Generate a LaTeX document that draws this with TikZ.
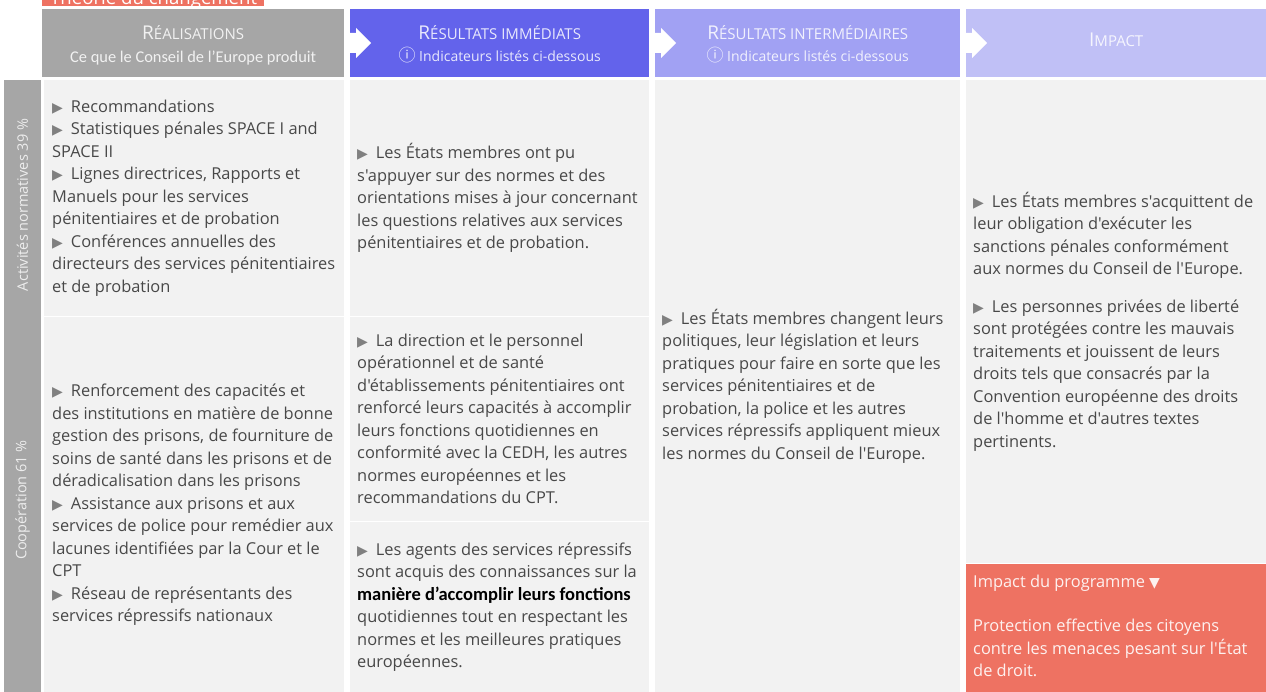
\documentclass[tikz,border=0pt]{standalone}
\usepackage{fontspec}
\setmainfont{Open Sans}[Ligatures=TeXOff]
\newfontfamily\calfont{Carlito}
\newfontfamily\symfont{DejaVu Sans}
\newfontfamily\cjkfont{Noto Sans CJK SC}
\usetikzlibrary{positioning}

\definecolor{headgray}{RGB}{166,166,166}
\definecolor{headblue}{RGB}{99,99,235}
\definecolor{headmid}{RGB}{161,161,243}
\definecolor{headpale}{RGB}{192,192,246}
\definecolor{cellgray}{RGB}{242,242,242}
\definecolor{coral}{RGB}{238,114,98}
\definecolor{bodytext}{RGB}{72,72,72}

\newcommand\bmark{{\symfont\color{gray}\fontsize{14}{14}\selectfont ▶}\hspace{8pt}}
\newcommand\sctitle[2]{{\fontsize{19}{19}\selectfont #1}{\fontsize{15}{15}\selectfont #2}}
\newcommand\infomark{{\cjkfont\fontsize{17}{17}\selectfont ⓘ}}

\tikzset{
  cell/.style={fill=cellgray, draw=none, anchor=north west, inner sep=0pt},
  head/.style={draw=none, anchor=north west, inner sep=0pt, minimum height=68pt},
  body/.style={anchor=west, align=left, inner sep=0pt, text=bodytext, font=\fontsize{16.4}{22.5}\selectfont},
  headtext/.style={anchor=base, align=center, text=white, text opacity=0.85, inner sep=0pt},
  sidetext/.style={rotate=90, text=white, text opacity=0.8, inner sep=0pt, font=\fontsize{14.5}{16}\selectfont},
}

\begin{document}
\begin{tikzpicture}[x=1pt, y=-1pt]
  \useasboundingbox (0,0) rectangle (1266,692);
  \fill[white] (0,0) rectangle (1266,692);

  % title bar, cut at the top edge
  \node[fill=coral, anchor=south west, inner sep=0pt, minimum width=222pt, minimum height=30pt] (titlebar) at (42,6.7) {};
  \node[anchor=base west, inner sep=0pt, text=white, font=\fontsize{18.6}{20}\selectfont] (title) at (50,4.5) {Théorie du changement};

  % headers
  \node[head, fill=headgray, minimum width=302pt] (hreal) at (42,9) {};
  \node[head, fill=headblue, minimum width=299pt] (hres) at (350,9) {};
  \node[head, fill=headmid, minimum width=305pt] (hinter) at (655,9) {};
  \node[head, fill=headpale, minimum width=300pt] (himp) at (966,9) {};

  \foreach \h in {hres,hinter,himp}
    \fill[white] ([shift={(-2,24)}]\h.north west) -- ++(8,0) -- ++(0,-5) -- ++(15,15)
      -- ++(-15,15) -- ++(0,-5) -- ++(-8,0) -- cycle;

  \node[headtext] (lreal) at ([yshift=-31pt]hreal.north) {\sctitle{R}{ÉALISATIONS}};
  \node[headtext, font=\calfont\fontsize{16.4}{18}\selectfont] (sreal) at ([yshift=-53.5pt]hreal.north) {Ce que le Conseil de l’Europe produit};
  \node[headtext] (lres) at ([yshift=-31pt]hres.north) {\sctitle{R}{ÉSULTATS IMMÉDIATS}};
  \node[headtext, font=\fontsize{14}{16}\selectfont] (sres) at ([yshift=-53pt]hres.north) {\infomark\ Indicateurs listés ci-dessous};
  \node[headtext] (linter) at ([yshift=-31pt]hinter.north) {\sctitle{R}{ÉSULTATS INTERMÉDIAIRES}};
  \node[headtext, font=\fontsize{14}{16}\selectfont] (sinter) at ([yshift=-53pt]hinter.north) {\infomark\ Indicateurs listés ci-dessous};
  \node[headtext] (limp) at ([yshift=-37.7pt]himp.north) {\sctitle{I}{MPACT}};

  % side bar
  \node[cell, fill=headgray, minimum width=37pt, minimum height=612pt] (side) at (4,80) {};
  \node[sidetext] (snorm) at (22.5,205) {Activités normatives 39 \%};
  \node[sidetext] (scoop) at (22.5,500) {Coopération 61 \%};

  % cells
  \node[cell, minimum width=300pt, minimum height=235.5pt] (realtop) at (44,80) {};
  \node[cell, minimum width=300pt, minimum height=375pt] (realbot) at (44,317) {};
  \node[cell, minimum width=299pt, minimum height=235.5pt] (restop) at (350,80) {};
  \node[cell, minimum width=299pt, minimum height=203.5pt] (resmid) at (350,317) {};
  \node[cell, minimum width=299pt, minimum height=170.5pt] (resbot) at (350,521.5) {};
  \node[cell, minimum width=305pt, minimum height=612pt] (inter) at (655,80) {};
  \node[cell, minimum width=300pt, minimum height=482.5pt] (imptop) at (966,80) {};
  \node[cell, fill=coral, minimum width=300pt, minimum height=128.5pt] (impprog) at (966,563.5) {};

  % cell texts
  \node[body] (trealtop) at ([xshift=8pt]realtop.west) {\bmark Recommandations\\
    \bmark Statistiques pénales SPACE I and\\ SPACE II\\
    \bmark Lignes directrices, Rapports et\\ Manuels pour les services\\ pénitentiaires et de probation\\
    \bmark Conférences annuelles des\\ directeurs des services pénitentiaires\\ et de probation};
  \node[body] (trealbot) at ([xshift=8pt]realbot.west) {\bmark Renforcement des capacités et\\
    des institutions en matière de bonne\\ gestion des prisons, de fourniture de\\
    soins de santé dans les prisons et de\\ déradicalisation dans les prisons\\
    \bmark Assistance aux prisons et aux\\ services de police pour remédier aux\\
    lacunes identifiées par la Cour et le\\ CPT\\
    \bmark Réseau de représentants des\\ services répressifs nationaux};
  \node[body] (trestop) at ([xshift=7pt]restop.west) {\bmark Les États membres ont pu\\
    s'appuyer sur des normes et des\\ orientations mises à jour concernant\\
    les questions relatives aux services\\ pénitentiaires et de probation.};
  \node[body] (tresmid) at ([xshift=7pt]resmid.west) {\bmark La direction et le personnel\\
    opérationnel et de santé\\ d'établissements pénitentiaires ont\\
    renforcé leurs capacités à accomplir\\ leurs fonctions quotidiennes en\\
    conformité avec la CEDH, les autres\\ normes européennes et les\\ recommandations du CPT.};
  \node[body] (tresbot) at ([xshift=7pt]resbot.west) {\bmark Les agents des services répressifs\\
    sont acquis des connaissances sur la\\
    {\calfont\bfseries\color{black}\fontsize{18.5}{22.5}\selectfont manière d’accomplir leurs fonctions}\\
    quotidiennes tout en respectant les\\ normes et les meilleures pratiques\\ européennes.};
  \node[body] (tinter) at ([xshift=7pt]inter.west) {\bmark Les États membres changent leurs\\
    politiques, leur législation et leurs\\ pratiques pour faire en sorte que les\\
    services pénitentiaires et de\\ probation, la police et les autres\\
    services répressifs appliquent mieux\\ les normes du Conseil de l'Europe.};
  \node[body] (timptop) at ([xshift=7pt]imptop.west) {\bmark Les États membres s'acquittent de\\
    leur obligation d'exécuter les\\ sanctions pénales conformément\\
    aux normes du Conseil de l'Europe.\\[15pt]
    \bmark Les personnes privées de liberté\\ sont protégées contre les mauvais\\
    traitements et jouissent de leurs\\ droits tels que consacrés par la\\
    Convention européenne des droits\\ de l'homme et d'autres textes\\ pertinents.};
  \node[body, anchor=base west, text=white, text opacity=0.9] (timpprog) at ([shift={(7,113)}]impprog.north west)
    {Impact du programme {\symfont\fontsize{14}{14}\selectfont ▼}\\[21.5pt]
    Protection effective des citoyens\\ contre les menaces pesant sur l'État\\ de droit.};
\end{tikzpicture}
\end{document}
